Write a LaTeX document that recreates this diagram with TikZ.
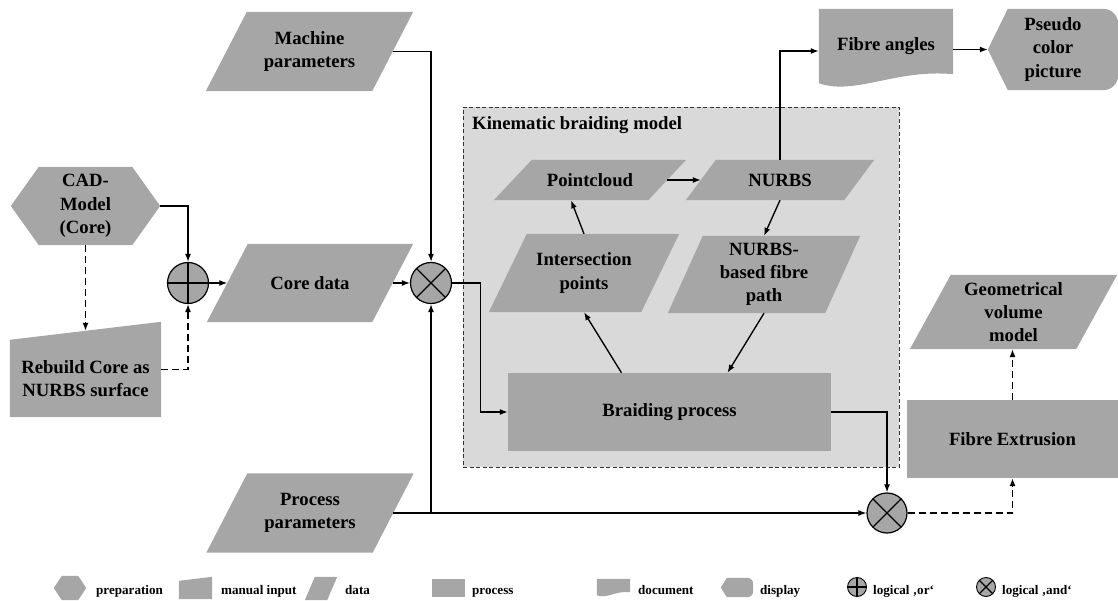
\documentclass[tikz,border=0pt]{standalone}
\usepackage{fontspec}
\setmainfont{Liberation Serif}
\usetikzlibrary{arrows.meta,backgrounds,calc}

\definecolor{shapegray}{HTML}{A6A6A6}
\definecolor{boxgray}{HTML}{D9D9D9}

\newcommand{\mainfs}{\fontsize{18.7}{23.2}\selectfont\bfseries}
\newcommand{\legfs}{\fontsize{13.1}{15}\selectfont\bfseries}

% fills of the flowchart symbols, drawn behind the named nodes
\newcommand{\datafill}[2]{\fill[shapegray] ([xshift=#2/2]#1.north west) -- ([xshift=#2/2]#1.north east)
  -- ([xshift=-#2/2]#1.south east) -- ([xshift=-#2/2]#1.south west) -- cycle;}
\newcommand{\procfill}[1]{\fill[shapegray] (#1.north west) rectangle (#1.south east);}
\newcommand{\hexfill}[2]{\fill[shapegray] (#1.west) -- ([xshift=#2]#1.north west) -- ([xshift=-#2]#1.north east)
  -- (#1.east) -- ([xshift=-#2]#1.south east) -- ([xshift=#2]#1.south west) -- cycle;}
\newcommand{\manfill}[2]{\fill[shapegray] (#1.north west) -- ([yshift=#2]#1.north east) -- (#1.south east) -- (#1.south west) -- cycle;}
\newcommand{\docfill}[2]{\fill[shapegray] (#1.north west) -- (#1.north east) -- ([yshift=#2]#1.south east)
  .. controls ($(#1.south east)!0.43!(#1.south west)+(0,-1.6*#2)$) and ($(#1.south east)!0.73!(#1.south west)+(0,1.4*#2)$)
  .. (#1.south west) -- cycle;}
\newcommand{\dispfill}[3]{\fill[shapegray] (#1.west) -- ([xshift=#2]#1.north west) [rounded corners=#3] -- (#1.north east)
  -- (#1.south east) [sharp corners] -- ([xshift=#2]#1.south west) -- cycle;}

\tikzset{
  shp/.style={inner sep=0pt, align=center, font=\mainfs},
  legtext/.style={inner sep=0pt, anchor=base west, font=\legfs},
  arr/.style={-{Latex[length=8pt,width=6pt]}, line width=1.35pt},
  dline/.style={arr, dash pattern=on 7pt off 4pt},
  ornode/.style={circle, draw, line width=1.2pt, fill=shapegray, minimum size=#1, inner sep=0pt,
    path picture={\draw[line width=1.2pt] (path picture bounding box.north) -- (path picture bounding box.south)
      (path picture bounding box.west) -- (path picture bounding box.east);}},
  andnode/.style={circle, draw, line width=1.2pt, fill=shapegray, minimum size=#1, inner sep=0pt,
    path picture={\draw[line width=1.2pt] (path picture bounding box.north west) -- (path picture bounding box.south east)
      (path picture bounding box.north east) -- (path picture bounding box.south west);}},
  kbmbox/.style={draw=black!80, dash pattern=on 4pt off 2.5pt, line width=0.9pt, fill=boxgray, inner sep=0pt}
}

\begin{document}
\begin{tikzpicture}[x=1pt,y=-1pt]
\useasboundingbox (0,0) rectangle (1118,601);

\begin{scope}[on background layer]
\node[kbmbox, minimum width=436, minimum height=360] (kbm) at (681,287) {};
\end{scope}
\node[shp, anchor=base west] (kbmlabel) at (472,130) {Kinematic braiding model};

% inputs
\node[shp, minimum width=166, minimum height=79] (mach) at (309.5,51.5) {Machine\\parameters};
\node[shp, minimum width=149, minimum height=78] (cad) at (85.5,206) {CAD-\\Model\\(Core)};
\node[shp, minimum width=151, minimum height=77] (rebuild) at (85.5,378.5) {Rebuild Core as\\NURBS surface};
\node[shp, minimum width=165, minimum height=78] (core) at (310,283) {Core data};
\node[shp, minimum width=166, minimum height=79] (proc) at (310,513) {Process\\parameters};

\node[ornode=41] (orc) at (188,283) {};
\node[andnode=41] (andm) at (431,283) {};
\node[andnode=40] (ands) at (887,513) {};

% kinematic braiding model
\node[shp, minimum width=154, minimum height=40] (pcloud) at (590,180) {Pointcloud};
\node[shp, minimum width=158, minimum height=40] (nurbs) at (780,180) {NURBS};
\node[shp, minimum width=152, minimum height=78] (inter) at (584,273) {Intersection\\points};
\node[shp, minimum width=157, minimum height=77] (nbfp) at (764,274.5) {NURBS-\\based fibre\\path};
\node[shp, minimum width=323, minimum height=78] (braid) at (669.5,412) {Braiding process};

% outputs
\node[shp, minimum width=134, minimum height=74] (fangle) at (886,46) {Fibre angles};
\node[shp, minimum width=130, minimum height=81] (disp) at (1053,49.5) {Pseudo\\color\\picture};
\node[shp, minimum width=211, minimum height=78] (fext) at (1012.5,439) {Fibre Extrusion};
\node[shp, minimum width=166, minimum height=74] (geom) at (1013.5,312) {Geometrical\\volume\\model};

% legend
\node[minimum width=32, minimum height=24, inner sep=0pt] (lprep) at (70,588) {};
\node[legtext] (tprep) at (96,594) {preparation};
\node[minimum width=33, minimum height=18, inner sep=0pt] (lman) at (195.5,590) {};
\node[legtext] (tman) at (221,594) {manual input};
\node[minimum width=22, minimum height=23, inner sep=0pt] (ldata) at (321,588.5) {};
\node[legtext] (tdata) at (345,594) {data};
\node[minimum width=33, minimum height=18, inner sep=0pt] (lproc) at (448.5,588) {};
\node[legtext] (tproc) at (472,594) {process};
\node[minimum width=33, minimum height=16, inner sep=0pt] (ldoc) at (613.5,587) {};
\node[legtext] (tdoc) at (638,594) {document};
\node[minimum width=32, minimum height=19, inner sep=0pt] (ldisp) at (737,587.5) {};
\node[legtext] (tdisp) at (760,594) {display};
\node[ornode=19, line width=0.9pt] (lor) at (857,587) {};
\node[legtext] (tor) at (873,594) {logical ‚or‘};
\node[andnode=19, line width=0.9pt] (land) at (986,587) {};
\node[legtext] (tand) at (1002,594) {logical ‚and‘};

\begin{scope}[on background layer]
\datafill{mach}{41}
\hexfill{cad}{28}
\manfill{rebuild}{18}
\datafill{core}{41}
\datafill{proc}{41}
\datafill{pcloud}{38}
\datafill{nurbs}{30}
\datafill{inter}{38}
\datafill{nbfp}{35}
\procfill{braid}
\docfill{fangle}{9}
\dispfill{disp}{20}{15}
\procfill{fext}
\datafill{geom}{41}
\hexfill{lprep}{8}
\manfill{lman}{4}
\datafill{ldata}{10}
\procfill{lproc}
\docfill{ldoc}{3}
\dispfill{ldisp}{6}{6}
\end{scope}

% connectors
\draw[arr] (cad.east) -| (orc.north);
\draw[dline] (cad.south) -- ([yshift=9]rebuild.north);
\draw[dline] ([yshift=9]rebuild.east) -| (orc.south);
\draw[arr] (orc.east) -- (core.west);
\draw[arr] (core.east) -- (andm.west);
\draw[arr] (mach.east) -| (andm.north);
\draw[arr] (proc.east) -- (ands.west);
\draw[arr] (andm.south |- proc.east) -- (andm.south);
\draw[arr] (andm.east) -- ++(28.5,0) |- (braid.west);
\draw[arr] ([xshift=-48]braid.north) -- (inter.south);
\draw[arr] (inter.north) -- ([xshift=-19]pcloud.south);
\draw[arr] (pcloud.east) -- (nurbs.west);
\draw[arr] (nurbs.south) -- (nbfp.north);
\draw[arr] (nbfp.south) -- ([xshift=58]braid.north);
\draw[arr] (nurbs.north) |- ([yshift=-5]fangle.west);
\draw[arr] (fangle.east |- disp.west) -- (disp.west);
\draw[arr] (braid.east) -| (ands.north);
\draw[dline] (ands.east) -| (fext.south);
\draw[dline] (fext.north) -- (fext.north |- geom.south);

\end{tikzpicture}
\end{document}
